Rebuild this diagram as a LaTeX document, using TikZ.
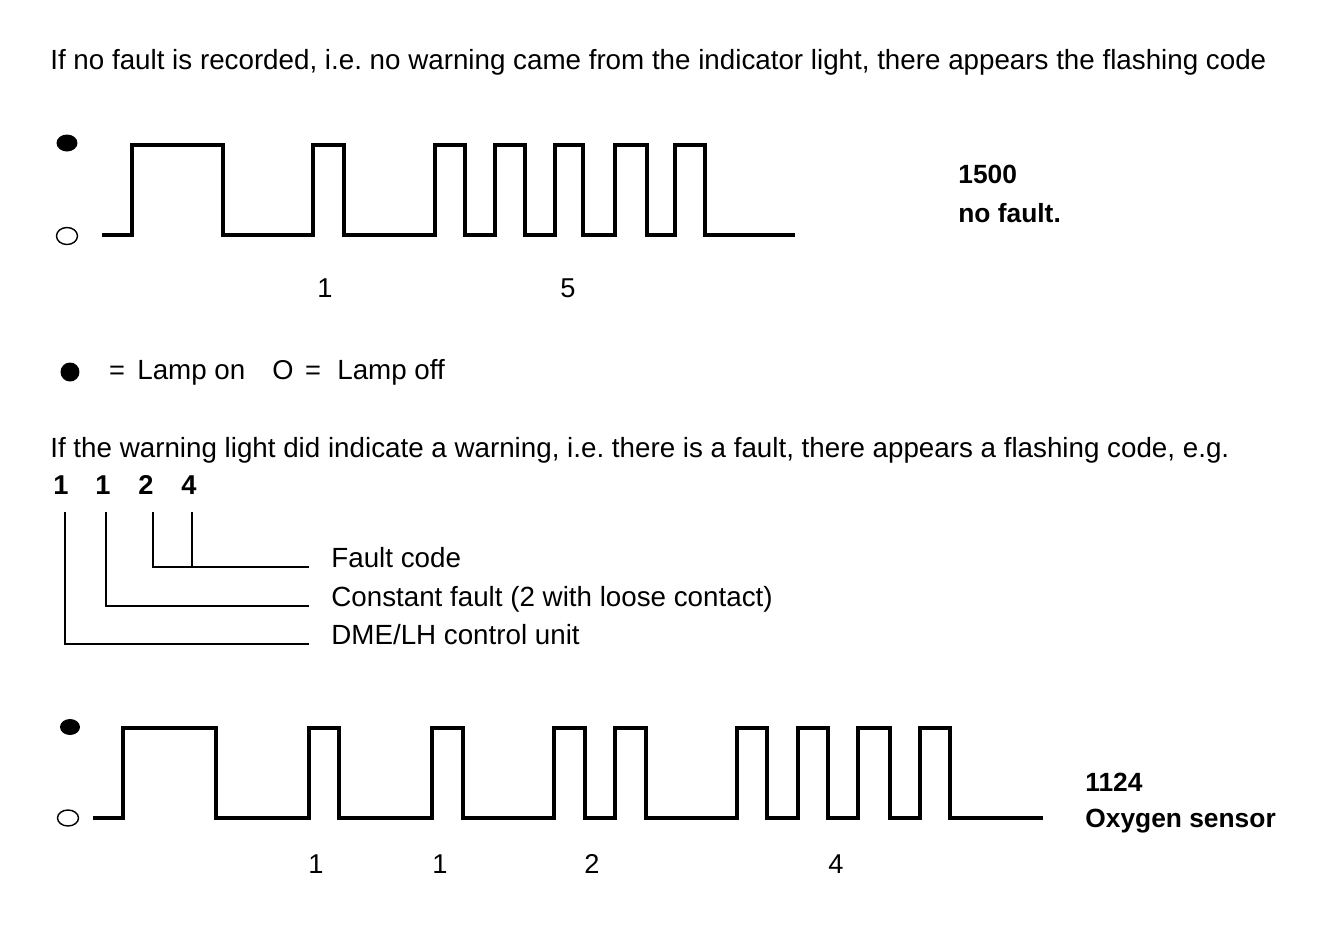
\documentclass[tikz,border=0pt]{standalone}
\usepackage{fontspec}
\setmainfont{Liberation Sans}
\usetikzlibrary{positioning}
\frenchspacing

\tikzset{
  wave/.style={line width=2.6pt},
  bracket/.style={line width=0.8pt},
  txt/.style={anchor=base west, inner sep=0pt, font=\fontsize{15.8}{18}\selectfont},
  codetxt/.style={anchor=base west, inner sep=0pt, font=\fontsize{15}{18}\selectfont\bfseries},
  digit/.style={anchor=base, inner sep=0pt, font=\fontsize{15.5}{18}\selectfont},
  bdigit/.style={digit, font=\fontsize{15.5}{18}\selectfont\bfseries},
  lampon/.style={fill=black},
  lampoff/.style={draw=black, line width=0.8pt},
}

\begin{document}
\begin{tikzpicture}[x=0.02cm,y=-0.02cm]
\useasboundingbox (0,0) rectangle (1344,940);

\begin{scope} % no fault
\node[txt] (intro) at (50,69) {If no fault is recorded, i.e. no warning came from the indicator light, there appears the flashing code};
\coordinate (On1) at (67,143);
\coordinate (Off1) at (67,236);
\fill[lampon] (On1) ellipse[x radius=0.21cm, y radius=0.17cm];
\draw[lampoff] (Off1) ellipse[x radius=0.21cm, y radius=0.17cm];
\draw[wave] (102,235)
  \foreach \a/\b in {132/223,313/344,435/465,495/525,555/583,615/647,675/705}
  { -- (\a,235) -- (\a,145) -- (\b,145) -- (\b,235) } -- (795,235);
\node[digit] (n1) at (325,297) {1};
\node[digit] (n5) at (568,297) {5};
\node[codetxt] (code1) at (958,183) {1500};
\node[codetxt] (code1txt) at (958,222) {no fault.};
\end{scope}
%
\begin{scope} % legend
\fill[lampon] (70,372) circle[radius=0.19cm];
\node[digit] (eq1) at (117,379) {=};
\node[txt] (lon) at (137,379) {Lamp on};
\node[digit] (oo) at (283,379) {O};
\node[digit] (eq2) at (313,379) {=};
\node[txt] (loff) at (337,379) {Lamp off};
\end{scope}
%
\begin{scope} % fault code key
\node[txt] (warn) at (50,457) {If the warning light did indicate a warning, i.e. there is a fault, there appears a flashing code, e.g.};
\node[bdigit] (k1) at (61,494) {1};
\node[bdigit] (k2) at (103,494) {1};
\node[bdigit] (k3) at (146,494) {2};
\node[bdigit] (k4) at (189,494) {4};
\node[txt] (lab1) at (331,567) {Fault code};
\node[txt] (lab2) at (331,606) {Constant fault (2 with loose contact)};
\node[txt] (lab3) at (331,644) {DME/LH control unit};
\coordinate (E1) at (309,567);
\coordinate (E2) at (309,606);
\coordinate (E3) at (309,644);
\draw[bracket] (153,512) |- (E1) (192,512) -- (192,567);
\draw[bracket] (106,512) |- (E2);
\draw[bracket] (65,512) |- (E3);
\end{scope}
%
\begin{scope} % fault 1124
\coordinate (On2) at (70,727);
\coordinate (Off2) at (68,818);
\fill[lampon] (On2) ellipse[x radius=0.2cm, y radius=0.16cm];
\draw[lampoff] (Off2) ellipse[x radius=0.21cm, y radius=0.16cm];
\draw[wave] (93,818)
  \foreach \a/\b in {123/216,309/339,432/463,554/585,615/646,737/767,798/828,858/890,920/950}
  { -- (\a,818) -- (\a,728) -- (\b,728) -- (\b,818) } -- (1043,818);
\node[digit] (m1) at (316,873) {1};
\node[digit] (m2) at (440,873) {1};
\node[digit] (m3) at (592,873) {2};
\node[digit] (m4) at (836,873) {4};
\node[codetxt] (code2) at (1085,791) {1124};
\node[codetxt] (code2txt) at (1085,827) {Oxygen sensor};
\end{scope}
\end{tikzpicture}
\end{document}
